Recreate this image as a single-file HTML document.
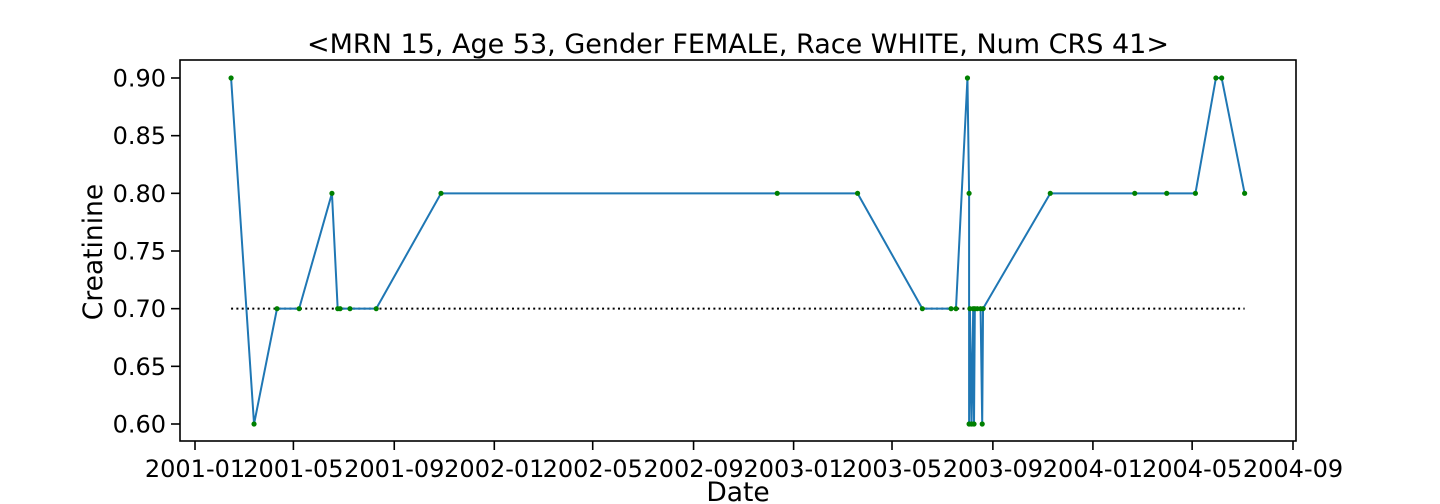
<!DOCTYPE html>
<html><head><meta charset="utf-8"><style>
html,body{margin:0;padding:0;background:#fff;}
svg{display:block;font-family:"DejaVu Sans","Liberation Sans",sans-serif;}
</style></head><body>
<svg id="chart" width="1440" height="504" xmlns="http://www.w3.org/2000/svg">
<text x="738" y="53" font-size="27" text-anchor="middle">&lt;MRN 15, Age 53, Gender FEMALE, Race WHITE, Num CRS 41&gt;</text>
<g id="plot"></g>
<rect x="180" y="60" width="1116" height="381" fill="none" stroke="#000" stroke-width="1.6"/>
<text x="738" y="501" font-size="26.5" text-anchor="middle">Date</text>
<text transform="translate(102,252) rotate(-90)" font-size="26.5" text-anchor="middle">Creatinine</text>
</svg>
<script>
const dates = ["2001-02-14","2001-03-14","2001-04-11","2001-05-08","2001-06-17","2001-06-24","2001-06-27","2001-07-09","2001-08-10","2001-10-28","2002-12-12","2003-03-20","2003-06-07","2003-07-12","2003-07-18","2003-08-01","2003-08-03","2003-08-03","2003-08-04","2003-08-06","2003-08-08","2003-08-09","2003-08-10","2003-08-13","2003-08-17","2003-08-19","2003-08-20","2003-11-10","2004-02-21","2004-03-31","2004-05-05","2004-05-30","2004-06-06","2004-07-04"];
const values = [0.9,0.6,0.7,0.7,0.8,0.7,0.7,0.7,0.7,0.8,0.8,0.8,0.7,0.7,0.7,0.9,0.8,0.6,0.7,0.6,0.7,0.6,0.7,0.7,0.7,0.6,0.7,0.8,0.8,0.8,0.8,0.9,0.9,0.8];
const baseline = 0.7;
const xTicks = ["2001-01","2001-05","2001-09","2002-01","2002-05","2002-09","2003-01","2003-05","2003-09","2004-01","2004-05","2004-09"];
const yTicks = [0.60,0.65,0.70,0.75,0.80,0.85,0.90];

const NS="http://www.w3.org/2000/svg";
const t0=Date.UTC(2001,0,1), t1=Date.UTC(2004,8,1);
function ms(s){const p=s.split("-");return Date.UTC(+p[0],+p[1]-1,p[2]?+p[2]:1);}
function xS(s){return 195+(ms(s)-t0)/(t1-t0)*(1293-195);}
function yS(v){return 424+(v-0.6)/(0.3)*(78-424);}
const svg=document.getElementById("chart"), g=document.getElementById("plot");
function mk(tag,at,parent){const e=document.createElementNS(NS,tag);for(const k in at)e.setAttribute(k,at[k]);(parent||g).appendChild(e);return e;}

const bl=mk("line",{x1:xS(dates[0]),x2:xS(dates[dates.length-1]),y1:yS(baseline),y2:yS(baseline),stroke:"#000","stroke-width":2,"stroke-dasharray":"2,3.3"});



const pl=mk("polyline",{points:dates.map((d,i)=>xS(d)+","+yS(values[i])).join(" "),fill:"none",stroke:"#1f77b4","stroke-width":2});



dates.forEach((d,i)=>{
  const c=mk("circle",{cx:xS(d),cy:yS(values[i]),r:2.6,fill:"#008000"});
  
  
});

xTicks.forEach(t=>{
  const x=xS(t);
  const l=mk("line",{x1:x,x2:x,y1:441,y2:450,stroke:"#000","stroke-width":1.6},svg);
  
  
  const tx=mk("text",{x:x,y:477,"font-size":24,"text-anchor":"middle"},svg);
  tx.textContent=t;
  
  
});
yTicks.forEach(v=>{
  const y=yS(v);
  const l=mk("line",{x1:171,x2:180,y1:y,y2:y,stroke:"#000","stroke-width":1.6},svg);
  
  
  const tx=mk("text",{x:166,y:y+8.5,"font-size":24,"text-anchor":"end"},svg);
  tx.textContent=v.toFixed(2);
  
  
});
</script>
</body></html>
